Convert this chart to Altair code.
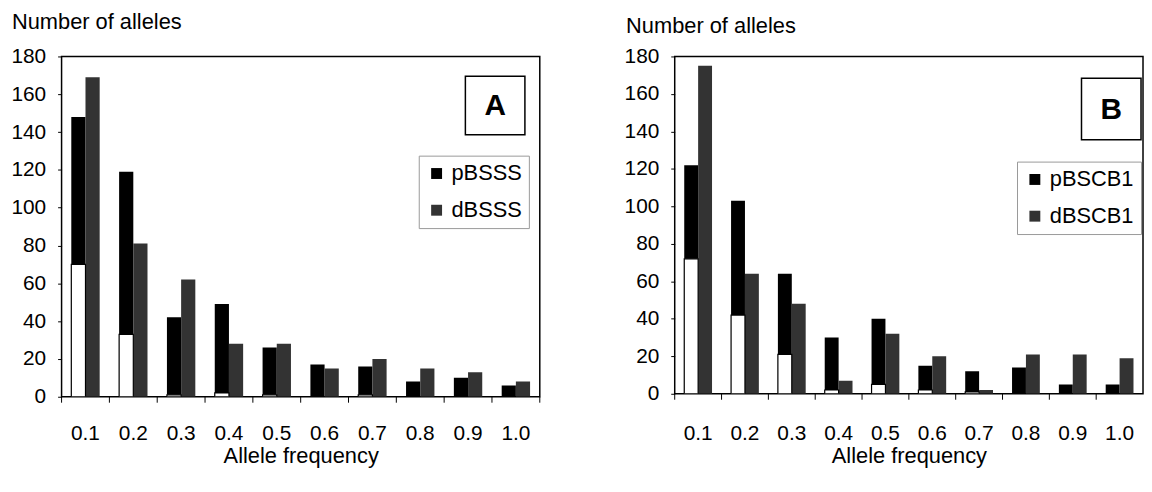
import altair as alt
import pandas as pd

FONT = "Liberation Sans"

# ---- data ----
cats = ["0.1", "0.2", "0.3", "0.4", "0.5", "0.6", "0.7", "0.8", "0.9", "1.0"]

a_series = ["pBSSS", "dBSSS"]
a_p = [148, 119, 42, 49, 26, 17, 16, 8, 10, 6]
a_d = [169, 81, 62, 28, 28, 15, 20, 15, 13, 8]
a_white = [70, 33, 1, 2, 1, 0, 1, 0, 0, 0]

b_series = ["pBSCB1", "dBSCB1"]
b_p = [122, 103, 64, 30, 40, 15, 12, 14, 5, 5]
b_d = [175, 64, 48, 7, 32, 20, 2, 21, 21, 19]
b_white = [72, 42, 21, 2, 5, 2, 1, 0, 0, 0]

y_ticks = list(range(0, 181, 20))
colors = ["#000000", "#333333"]


def panel(series, pv, dv, wv, letter, width, height, lx, ly,
          box, title_dx, title_offset, label_pad, end_tick):
    bars = pd.DataFrame(
        [{"cat": c, "series": series[0], "value": v} for c, v in zip(cats, pv)]
        + [{"cat": c, "series": series[1], "value": v} for c, v in zip(cats, dv)]
    )
    whites = pd.DataFrame([{"cat": c, "series": series[0], "value": v} for c, v in zip(cats, wv)])
    ticks = pd.DataFrame([{"cat": c} for c in cats])

    xaxis = alt.Axis(title="Allele frequency", ticks=False, tickSize=0, domain=False,
                     labelAngle=0, labelPadding=label_pad, labelFontSize=21,
                     titleFontSize=22, titlePadding=2, titleFontWeight="normal")
    xscale = alt.Scale(domain=cats, paddingInner=0, paddingOuter=0)

    def X(bp=None):
        if bp is None:
            return alt.X("cat:N", sort=cats, scale=xscale, axis=xaxis)
        return alt.X("cat:N", sort=cats, scale=xscale, axis=xaxis, bandPosition=bp)

    y = alt.Y("value:Q", scale=alt.Scale(domain=[0, 180], nice=False),
              axis=alt.Axis(values=y_ticks, title=None, domain=False, grid=False,
                            tickSize=4, labelPadding=12, labelFontSize=21,
                            minExtent=53, maxExtent=53))
    xo = alt.XOffset("series:N", sort=series,
                     scale=alt.Scale(domain=series, paddingInner=0, paddingOuter=0.685))

    bar_layer = alt.Chart(bars).mark_bar(clip=True).encode(
        x=X(), xOffset=xo, y=y,
        color=alt.Color("series:N", sort=series,
                        scale=alt.Scale(domain=series, range=colors),
                        legend=alt.Legend(title=None, orient="none", legendX=lx, legendY=ly,
                                          direction="vertical", symbolType="square",
                                          symbolSize=121, symbolStrokeWidth=0,
                                          labelFontSize=22, labelFont=FONT, labelColor="black",
                                          labelOffset=4, padding=7, rowPadding=15,
                                          strokeColor="#999999", fillColor="white")),
    )
    white_layer = alt.Chart(whites).mark_bar(fill="white", stroke="black",
                                             strokeWidth=1.2, clip=True).encode(
        x=X(), xOffset=xo, y=y)

    tick_layer = alt.Chart(ticks).mark_rule(color="black", strokeWidth=1).encode(
        x=X(0), y=alt.value(height), y2=alt.value(height + 6))

    layers = [bar_layer, white_layer, tick_layer]
    if end_tick:
        layers.append(alt.Chart(ticks).mark_rule(color="black", strokeWidth=1).encode(
            x=X(1), y=alt.value(height), y2=alt.value(height + 6)
        ).transform_filter(alt.datum.cat == cats[-1]))

    lab = alt.Data(values=[{"label": letter}])
    bx0, bx1, by0, by1 = box
    layers.append(alt.Chart(lab).mark_rect(fill="white", stroke="black", strokeWidth=1.5).encode(
        x=alt.value(bx0), x2=alt.value(bx1), y=alt.value(by0), y2=alt.value(by1)))
    layers.append(alt.Chart(lab).mark_text(font=FONT, fontSize=30, fontWeight="bold",
                                           align="center", baseline="middle", color="black").encode(
        x=alt.value((bx0 + bx1) / 2), y=alt.value((by0 + by1) / 2 + 1), text="label:N"))

    return alt.layer(*layers).properties(
        width=width, height=height,
        title=alt.TitleParams(text="Number of alleles", anchor="start", dx=title_dx,
                              offset=title_offset, fontSize=22, font=FONT,
                              fontWeight="normal", color="black"),
    )


left = panel(a_series, a_p, a_d, a_white, "A", 482, 343, 360, 100,
             (407, 467, 20, 79), 3, 12, 26, True)
right = panel(b_series, b_p, b_d, b_white, "B", 472, 340, 345, 106,
              (410, 470, 22, 84), 4, 8, 29, False)

chart = alt.concat(left, right, columns=2, spacing=80, align="each").resolve_scale(
    color="independent", x="independent", y="independent", xOffset="independent"
).resolve_legend(color="independent").properties(
    padding={"left": 0, "top": 0, "right": 0, "bottom": 0}
).configure_view(stroke="black", strokeWidth=1.5).configure_axis(
    labelFont=FONT, titleFont=FONT, labelColor="black", titleColor="black",
    tickColor="black"
)

chart.save("out.html", embed_options={"renderer": "svg", "actions": False})
